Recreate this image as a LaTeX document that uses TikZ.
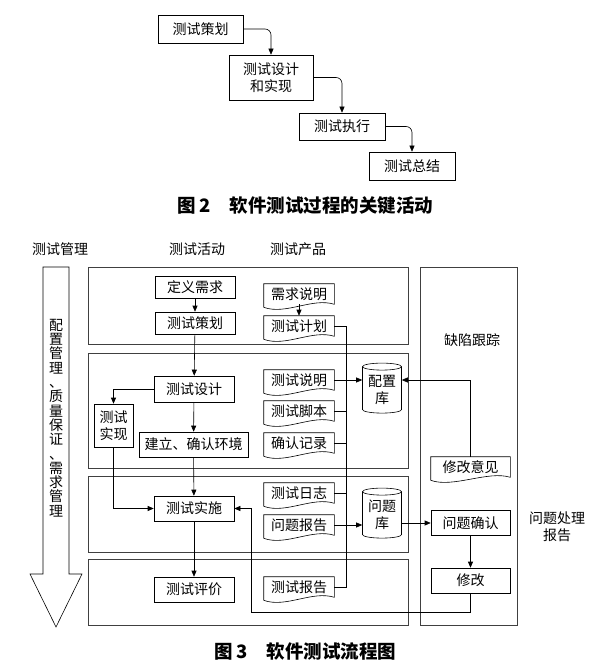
\documentclass[tikz,border=0pt]{standalone}
\usepackage{fontspec}
\setmainfont{Noto Sans CJK SC}
\usepackage{tikz}
\usetikzlibrary{arrows.meta}
\usetikzlibrary{shapes.geometric}
\usetikzlibrary{calc}

\tikzset{
	box/.style={draw, minimum width=80, minimum height=25, inner sep=0, align=center},
	docbox/.style={minimum width=70, minimum height=20, inner sep=0},
	store/.style={draw, cylinder, shape border rotate=90, aspect=0.25, minimum width=39, minimum height=50, inner sep=0, align=center},
	arr/.style={-{Triangle[length=6pt,width=5pt]}},
	part/.style={draw=black!75},
	capt/.style={font=\fontsize{18.5}{20}\selectfont\bfseries},
}

\begin{document}
\begin{tikzpicture}[x=1pt,y=-1pt,line width=0.6pt,font=\fontsize{14}{17}\selectfont]
	\useasboundingbox (0,0) rectangle (597,671);
	% Fig 2
	\node[box,minimum width=85,minimum height=28] (jh) at (200.5,29) {测试策划};
	\node[box,minimum width=84,minimum height=45] (sj) at (271,77.5) {测试设计\\和实现};
	\node[box,minimum width=86,minimum height=27] (zx) at (342,126.5) {测试执行};
	\node[box,minimum width=86,minimum height=28] (zj) at (412,166) {测试总结};
	\foreach \a/\b in {jh/sj,sj/zx,zx/zj}{
		\draw[arr,rounded corners=6] (\a.east) -| (\b.north);
	}
	\node[capt] (cap2) at (305,206) {图 2\quad 软件测试过程的关键活动};

	% Fig 3
	\node (h1) at (60,249) {测试管理};
	\node (h2) at (197,249) {测试活动};
	\node (h3) at (298,249) {测试产品};
	\draw (43,267) -- (69,267) -- (69,574) -- (82,574) -- (56,627) -- (30,574) -- (43,574) -- cycle;
	\node[align=center,font=\fontsize{14}{14.3}\selectfont] (gl) at (56,418) {配\\置\\管\\理\\、\\质\\量\\保\\证\\、\\需\\求\\管\\理};
	\foreach \t/\b in {267/344,353/468,476/552,559/625}{
		\draw[part] (88,\t) rectangle (408,\b);
	}
	\draw[part] (420,267) rectangle (517,625);
	\node (qx) at (472,340) {缺陷跟踪};
	\node[align=center] (cl) at (557,527) {问题处理\\报告};

	% activities
	\node[box,minimum height=22] (dyxq) at (195,287) {定义需求};
	\node[box,minimum height=22] (cscs) at (195,323) {测试策划};
	\node[box,minimum height=26] (cssj) at (194,389) {测试设计};
	\node[box,minimum width=39,minimum height=43] (cssx) at (113.5,425.5) {测试\\实现};
	\node[box,minimum width=109] (jlhj) at (193.5,444.5) {建立、确认环境};
	\node[box] (cssh) at (194,508.5) {测试实施};
	\node[box] (cspj) at (194,589.5) {测试评价};

	% products
	\node[docbox] (xqsm) at (299,294) {需求说明};
	\node[docbox] (csjh) at (299,326) {测试计划};
	\node[docbox] (cssm) at (299,380) {测试说明};
	\node[docbox] (csjb) at (299,411) {测试脚本};
	\node[docbox] (qrjl) at (299,443) {确认记录};
	\node[docbox] (csrz) at (299,493) {测试日志};
	\node[docbox] (wtbg) at (299,525) {问题报告};
	\node[docbox] (csbg) at (299,587) {测试报告};
	\node[docbox,minimum width=79] (xgyj) at (470.5,467) {修改意见};
	\foreach \n in {xqsm,csjh,cssm,csjb,qrjl,csrz,wtbg,csbg,xgyj}{
		\draw ($(\n.south west)+(0,3)$) -- (\n.north west) -- (\n.north east) -- (\n.south east)
			.. controls +(-22,-7) and +(22,8) .. ($(\n.south west)+(0,3)$);
	}
	\node[store] (pzk) at (382,390) {配置\\库};
	\node[store] (wtk) at (382,515) {问题\\库};

	% defect tracking
	\node[box,minimum width=79] (wtqr) at (470.5,523) {问题确认};
	\node[box,minimum width=79] (xg) at (470.5,580.5) {修改};

	% connectors
	\foreach \a/\b in {dyxq/cscs,cscs/cssj,cssj/jlhj,jlhj/cssh,cssh/cspj,xqsm/csjh,wtqr/xg}{
		\draw[arr] (\a) -- (\b);
	}
	\draw[arr] (cssj.west) -| (cssx.north);
	\draw[arr] (cssx.south) |- (cssh.west);
	\coordinate (bus) at (346,0);
	\draw (csjh.east) -- (csjh.east -| bus) -- (csbg.east -| bus) -- (csbg.east);
	\foreach \n in {csjb,qrjl,csrz}{
		\draw (\n.east) -- (\n.east -| bus);
	}
	\draw[arr] (cssm.east) -- (cssm.east -| pzk.west);
	\draw[arr] (xgyj.north) |- (cssm.east -| pzk.east);
	\draw[arr] (wtbg.east) -- (wtbg.east -| wtk.west);
	\draw[arr] (wtk.east |- wtqr.west) -- (wtqr.west);
	\coordinate (ret) at (251,612);
	\draw[arr] (xg.south) |- (ret) |- (cssh.east);

	\node[capt] (cap3) at (305,651) {图 3\quad 软件测试流程图};
\end{tikzpicture}
\end{document}
